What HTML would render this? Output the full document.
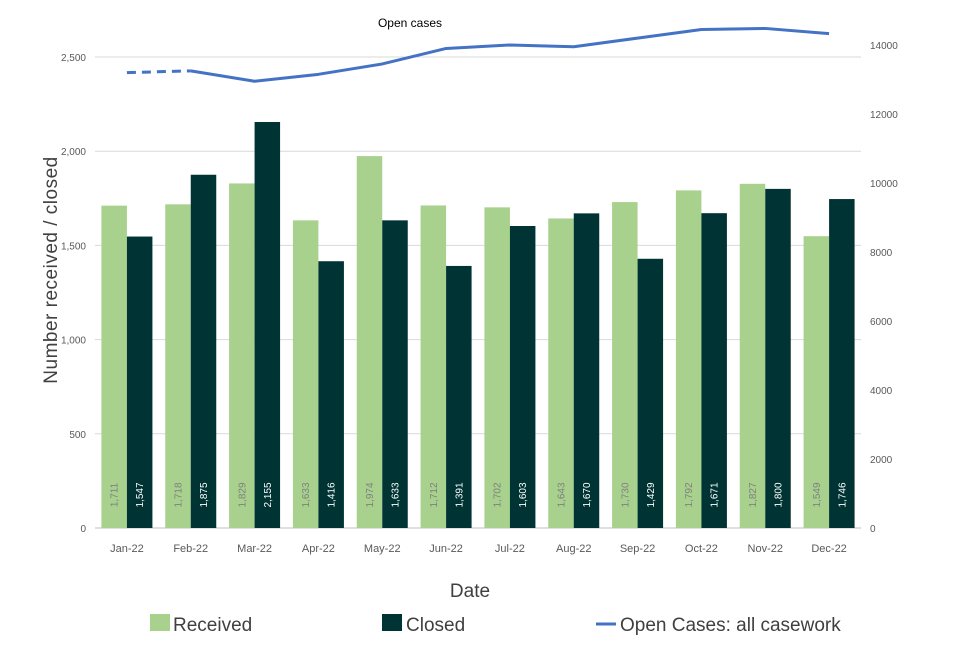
<!DOCTYPE html>
<html><head><meta charset="utf-8"><style>
body{margin:0;background:#fff;font-family:"Liberation Sans",sans-serif}
svg text{font-family:"Liberation Sans",sans-serif}
</style></head><body>
<svg id="c" width="960" height="640" xmlns="http://www.w3.org/2000/svg">
<g id="grid"></g><g id="bars"></g><g id="line"></g><g id="axes"></g>
<text x="410" y="27" font-size="12" text-anchor="middle" fill="#000">Open cases</text>
<text transform="translate(57,270) rotate(-90)" font-size="19" text-anchor="middle" fill="#404040" letter-spacing="0.5">Number received / closed</text>
<text x="470" y="597" font-size="19" text-anchor="middle" fill="#404040">Date</text>
<g>
<rect x="150" y="614" width="20" height="17" fill="#a9d18e"/>
<text x="173" y="631" font-size="19" fill="#404040">Received</text>
<rect x="382" y="614" width="20" height="17" fill="#003333"/>
<text x="406" y="631" font-size="19" fill="#404040">Closed</text>
<line x1="596" y1="624" x2="616" y2="624" stroke="#4472c4" stroke-width="3"/>
<text x="620" y="631" font-size="19" fill="#404040">Open Cases: all casework</text>
</g>
</svg>
<script>
const categories=["Jan-22","Feb-22","Mar-22","Apr-22","May-22","Jun-22","Jul-22","Aug-22","Sep-22","Oct-22","Nov-22","Dec-22"];
const received=[1711,1718,1829,1633,1974,1712,1702,1643,1730,1792,1827,1549];
const closed=[1547,1875,2155,1416,1633,1391,1603,1670,1429,1671,1800,1746];
const openCases=[13200,13250,12950,13150,13450,13900,14000,13950,14200,14450,14480,14330];
const leftTicks=[0,500,1000,1500,2000,2500];
const rightTicks=[0,2000,4000,6000,8000,10000,12000,14000];
const NS="http://www.w3.org/2000/svg";
const x0=95,x1=861,y0=528;
const step=(x1-x0)/categories.length;
const yL=v=>y0-v*(471/2500);
const yR=v=>y0-v*(483/14000);
const xc=i=>x0+step*(i+0.5);
function mk(t,a,p){const e=document.createElementNS(NS,t);for(const k in a)e.setAttribute(k,a[k]);p.appendChild(e);return e;}
const G=document.getElementById('grid'),B=document.getElementById('bars'),L=document.getElementById('line'),A=document.getElementById('axes');
leftTicks.forEach(v=>{
 const l=mk('line',{x1:x0,x2:x1,y1:yL(v),y2:yL(v),stroke:v===0?'#bfbfbf':'#d9d9d9','stroke-width':1},G);
 
 
 const t=mk('text',{x:86,y:yL(v)+4,'font-size':10,'text-anchor':'end',fill:'#595959'},A);t.textContent=v.toLocaleString('en-US');
 
 
});
rightTicks.forEach(v=>{
 const t=mk('text',{x:870,y:yR(v)+4,'font-size':10,fill:'#595959'},A);t.textContent=v;
 
 
});
const bw=25.5;
categories.forEach((c,i)=>{
 const cx=xc(i);
 const r=mk('rect',{x:cx-bw,y:yL(received[i]),width:bw,height:y0-yL(received[i]),fill:'#a9d18e'},B);
 
 
 const d=mk('rect',{x:cx,y:yL(closed[i]),width:bw,height:y0-yL(closed[i]),fill:'#003333'},B);
 
 
 const t1=mk('text',{transform:`translate(${cx-bw/2+3.5},495) rotate(-90)`,'font-size':10,'text-anchor':'middle',fill:'#7f7f7f'},B);t1.textContent=received[i].toLocaleString('en-US');
 
 
 const t2=mk('text',{transform:`translate(${cx+bw/2+3.5},495) rotate(-90)`,'font-size':10,'text-anchor':'middle',fill:'#fff'},B);t2.textContent=closed[i].toLocaleString('en-US');
 
 
 const t3=mk('text',{x:cx,y:552,'font-size':11,'text-anchor':'middle',fill:'#595959'},A);t3.textContent=c;
 
 
});
const dash=mk('line',{x1:xc(0),y1:yR(openCases[0]),x2:xc(1),y2:yR(openCases[1]),stroke:'#4472c4','stroke-width':3,'stroke-dasharray':'9,6'},L);


const pts=openCases.slice(1).map((v,i)=>`${xc(i+1)},${yR(v)}`).join(' ');
const pl=mk('polyline',{points:pts,fill:'none',stroke:'#4472c4','stroke-width':3,'stroke-linejoin':'round'},L);


</script>
</body></html>
